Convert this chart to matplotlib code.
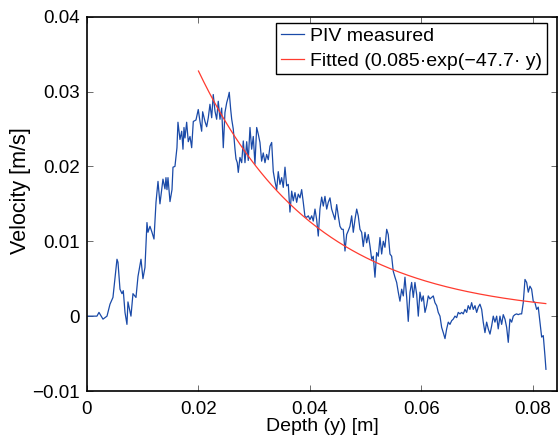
import matplotlib
matplotlib.use('Agg')
import matplotlib.pyplot as plt
import numpy as np

plt.rcParams['font.family'] = ['Liberation Sans', 'DejaVu Sans']

# PIV profile (depth in m, velocity in m/s)
depth = [0.00018, 0.00179, 0.00215, 0.00287, 0.00359, 0.00413, 0.00466, 0.00538, 0.00556, 0.00592,
         0.00628, 0.00651, 0.00682, 0.00717, 0.00735, 0.00789, 0.00825, 0.00879, 0.00915, 0.00969,
         0.01004, 0.01040, 0.01076, 0.01094, 0.01130, 0.01166, 0.01202, 0.01238, 0.01274, 0.01309,
         0.01363, 0.01399, 0.01417, 0.01435, 0.01453, 0.01489, 0.01525, 0.01543, 0.01578, 0.01614,
         0.01632, 0.01668, 0.01699, 0.01722, 0.01740, 0.01758, 0.01788, 0.01817, 0.01848, 0.01878,
         0.01907, 0.01955, 0.01996, 0.02027, 0.02057, 0.02075, 0.02117, 0.02147, 0.02176, 0.02206,
         0.02237, 0.02265, 0.02296, 0.02326, 0.02355, 0.02386, 0.02416, 0.02445, 0.02475, 0.02506,
         0.02535, 0.02552, 0.02578, 0.02596, 0.02624, 0.02655, 0.02673, 0.02696, 0.02714, 0.02744,
         0.02775, 0.02804, 0.02834, 0.02865, 0.02893, 0.02924, 0.02954, 0.02983, 0.03013, 0.03044,
         0.03073, 0.03103, 0.03133, 0.03162, 0.03193, 0.03223, 0.03252, 0.03283, 0.03313, 0.03342,
         0.03372, 0.03403, 0.03431, 0.03462, 0.03492, 0.03521, 0.03552, 0.03582, 0.03611, 0.03641,
         0.03672, 0.03700, 0.03731, 0.03761, 0.03790, 0.03821, 0.03851, 0.03880, 0.03910, 0.03941,
         0.03970, 0.04000, 0.04031, 0.04059, 0.04090, 0.04120, 0.04149, 0.04179, 0.04210, 0.04239,
         0.04269, 0.04300, 0.04328, 0.04359, 0.04389, 0.04418, 0.04448, 0.04479, 0.04508, 0.04538,
         0.04569, 0.04597, 0.04628, 0.04658, 0.04687, 0.04717, 0.04748, 0.04777, 0.04807, 0.04838,
         0.04866, 0.04897, 0.04927, 0.04956, 0.04987, 0.05017, 0.05046, 0.05076, 0.05107, 0.05135,
         0.05166, 0.05196, 0.05225, 0.05256, 0.05286, 0.05315, 0.05345, 0.05376, 0.05404, 0.05435,
         0.05465, 0.05494, 0.05525, 0.05555, 0.05584, 0.05614, 0.05645, 0.05674, 0.05704, 0.05735,
         0.05763, 0.05794, 0.05824, 0.05853, 0.05883, 0.05914, 0.05943, 0.05973, 0.06003, 0.06032,
         0.06063, 0.06093, 0.06122, 0.06152, 0.06183, 0.06212, 0.06242, 0.06273, 0.06301, 0.06332,
         0.06362, 0.06391, 0.06422, 0.06452, 0.06481, 0.06511, 0.06542, 0.06570, 0.06601, 0.06631,
         0.06660, 0.06691, 0.06721, 0.06750, 0.06780, 0.06811, 0.06839, 0.06870, 0.06900, 0.06929,
         0.06960, 0.06990, 0.07019, 0.07049, 0.07080, 0.07108, 0.07139, 0.07169, 0.07198, 0.07229,
         0.07259, 0.07288, 0.07318, 0.07349, 0.07377, 0.07408, 0.07438, 0.07467, 0.07498, 0.07528,
         0.07557, 0.07587, 0.07618, 0.07647, 0.07677, 0.07707, 0.07736, 0.07767, 0.07797, 0.07826,
         0.07857, 0.07887, 0.07916, 0.07946, 0.07976, 0.08005, 0.08036, 0.08066, 0.08095, 0.08126,
         0.08156, 0.08185, 0.08215, 0.08233]
velocity = [0.0000, 0.0000, 0.0005, -0.0004, 0.0000, 0.0016, 0.0025, 0.0076, 0.0072, 0.0036,
            0.0030, 0.0034, 0.0005, -0.0011, 0.0019, 0.0000, 0.0030, 0.0025, 0.0053, 0.0076,
            0.0050, 0.0065, 0.0125, 0.0112, 0.0120, 0.0112, 0.0103, 0.0152, 0.0180, 0.0150,
            0.0183, 0.0170, 0.0185, 0.0169, 0.0185, 0.0153, 0.0169, 0.0199, 0.0200, 0.0225,
            0.0259, 0.0236, 0.0247, 0.0223, 0.0252, 0.0238, 0.0259, 0.0233, 0.0240, 0.0225,
            0.0260, 0.0262, 0.0276, 0.0260, 0.0247, 0.0273, 0.0260, 0.0253, 0.0265, 0.0283,
            0.0265, 0.0296, 0.0274, 0.0263, 0.0287, 0.0263, 0.0278, 0.0225, 0.0272, 0.0285,
            0.0293, 0.0299, 0.0276, 0.0263, 0.0250, 0.0223, 0.0210, 0.0205, 0.0192, 0.0212,
            0.0205, 0.0234, 0.0205, 0.0233, 0.0208, 0.0252, 0.0223, 0.0240, 0.0203, 0.0252,
            0.0243, 0.0232, 0.0207, 0.0218, 0.0205, 0.0216, 0.0209, 0.0227, 0.0232, 0.0193,
            0.0180, 0.0169, 0.0193, 0.0176, 0.0185, 0.0172, 0.0199, 0.0174, 0.0176, 0.0139,
            0.0167, 0.0154, 0.0165, 0.0152, 0.0163, 0.0158, 0.0169, 0.0152, 0.0133, 0.0132,
            0.0134, 0.0129, 0.0134, 0.0127, 0.0143, 0.0129, 0.0107, 0.0143, 0.0159, 0.0147,
            0.0160, 0.0143, 0.0152, 0.0158, 0.0143, 0.0136, 0.0129, 0.0149, 0.0134, 0.0120,
            0.0116, 0.0116, 0.0087, 0.0109, 0.0114, 0.0120, 0.0134, 0.0112, 0.0129, 0.0143,
            0.0134, 0.0116, 0.0112, 0.0093, 0.0112, 0.0098, 0.0109, 0.0094, 0.0076, 0.0080,
            0.0052, 0.0085, 0.0080, 0.0105, 0.0083, 0.0100, 0.0092, 0.0116, 0.0109, 0.0083,
            0.0080, 0.0060, 0.0052, 0.0045, 0.0032, 0.0020, 0.0036, 0.0027, 0.0052, 0.0025,
            -0.0007, 0.0032, 0.0045, 0.0025, 0.0045, 0.0029, 0.0000, 0.0032, 0.0020, 0.0027,
            0.0005, 0.0014, 0.0027, 0.0023, 0.0025, 0.0027, 0.0018, 0.0014, 0.0005, 0.0000,
            -0.0015, -0.0022, -0.0030, -0.0017, -0.0008, -0.0011, -0.0006, -0.0004, 0.0000, -0.0002,
            0.0005, 0.0003, 0.0005, 0.0003, 0.0009, 0.0005, 0.0014, 0.0009, 0.0018, 0.0009,
            0.0014, 0.0005, 0.0012, 0.0016, 0.0009, -0.0008, -0.0022, -0.0008, -0.0017, -0.0024,
            -0.0013, 0.0000, -0.0008, 0.0000, -0.0017, 0.0000, -0.0011, 0.0002, -0.0004, -0.0015,
            -0.0035, -0.0004, -0.0008, 0.0000, 0.0002, 0.0003, 0.0002, 0.0003, 0.0003, 0.0018,
            0.0049, 0.0045, 0.0032, 0.0040, 0.0036, 0.0020, 0.0018, 0.0009, 0.0012, -0.0008,
            -0.0028, -0.0026, -0.0053, -0.0071]

# exponential fit given in the legend, drawn over its fitted range
fit_amp = 0.085
fit_rate = 47.7
fit_start = 0.020
fit_end = 0.0823

xticks = [0, 0.02, 0.04, 0.06, 0.08]
xtick_labels = ['0', '0.02', '0.04', '0.06', '0.08']
yticks = [-0.01, 0, 0.01, 0.02, 0.03, 0.04]
ytick_labels = ['\u22120.01', '0', '0.01', '0.02', '0.03', '0.04']

fig = plt.figure(figsize=(5.59, 4.38), dpi=100)
ax = fig.add_axes([0.1556, 0.1073, 0.8417, 0.8546])

y_fit = np.linspace(fit_start, fit_end, 200)
ax.plot(depth, velocity, color='#1a4aa8', lw=0.9, label='PIV measured')
ax.plot(y_fit, fit_amp * np.exp(-fit_rate * y_fit), color='#ff3b2f', lw=0.9,
        label='Fitted (0.085\u00b7exp(\u221247.7\u00b7 y)')

ax.set_xlim(0, 0.0844)
ax.set_ylim(-0.01, 0.04)
ax.set_xticks(xticks)
ax.set_xticklabels(xtick_labels)
ax.set_yticks(yticks)
ax.set_yticklabels(ytick_labels)
ax.tick_params(direction='in', length=4, width=0.6, top=True, right=True,
               labelsize=13.5, color='#555555')
ax.tick_params(axis='x', pad=7)
ax.tick_params(axis='y', pad=5)
for s in ax.spines.values():
    s.set_linewidth(1.2)

ax.set_xlabel('Depth (y) [m]', fontsize=14, labelpad=0)
ax.set_ylabel('Velocity [m/s]', fontsize=15.5)
ax.yaxis.set_label_coords(-0.12, 0.534)

leg = ax.legend(loc='upper right', bbox_to_anchor=(0.978, 0.984), borderaxespad=0,
                fontsize=14, fancybox=False, framealpha=1, edgecolor='black',
                handlelength=1.2, handletextpad=0.3, borderpad=0.25, labelspacing=0.35)
leg.get_frame().set_linewidth(1.0)

fig.savefig('out.png', dpi=100)
